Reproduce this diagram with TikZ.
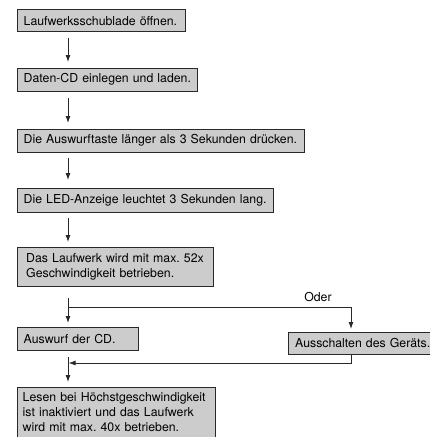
\documentclass[tikz,border=0pt]{standalone}
\usepackage{fontspec}
\setmainfont{TeX Gyre Heros}
\usetikzlibrary{arrows.meta,backgrounds}
\frenchspacing
\begin{document}
\begin{tikzpicture}[x=1pt,y=1pt,
  box/.style={anchor=north west, inner xsep=6pt, inner ysep=0pt, align=left,
    font=\fontsize{12.3}{15}\selectfont},
  boxbg/.style={draw=black!84, fill=black!20, line width=1pt},
  arr/.style={draw=black!84, line width=0.9pt,
    -{Latex[length=7pt,width=5pt]}},
  stem/.style={draw=black!84, line width=0.9pt},
  lbl/.style={font=\fontsize{12.3}{15}\selectfont}]
\useasboundingbox (0,0) rectangle (430,-437);

% process steps
\node[box, text width=155.5pt, minimum height=22pt] (b1) at (17.5,-9.5)
  {\mbox{Laufwerksschublade öffnen.}};
\node[box, text width=167.5pt, minimum height=23pt] (b2) at (17.5,-68)
  {\mbox{Daten-CD einlegen und laden.}};
\node[box, text width=274.5pt, minimum height=23pt] (b3) at (17.5,-129)
  {\mbox{Die Auswurftaste länger als 3 Sekunden drücken.}};
\node[box, text width=243.5pt, minimum height=24pt] (b4) at (17.5,-188)
  {\mbox{Die LED-Anzeige leuchtet 3 Sekunden lang.}};
\node[box, inner xsep=8.5pt, text width=178.5pt, minimum height=39pt] (b5) at (17.5,-247)
  {\mbox{Das Laufwerk wird mit max. 52x}\\\mbox{Geschwindigkeit betrieben.}};
\node[box, text width=108.5pt, minimum height=23pt] (b6) at (17.5,-327)
  {\mbox{Auswurf der CD.}};
\node[box, inner xsep=7pt, text width=132pt, minimum height=22pt] (b7) at (288,-332)
  {\mbox{Ausschalten des Geräts.}};
\node[box, inner xsep=5pt, text width=187.5pt, minimum height=50pt] (b8) at (17.5,-387)
  {\mbox{Lesen bei Höchstgeschwindigkeit}\\\mbox{ist inaktiviert und das Laufwerk}\\\mbox{wird mit max. 40x betrieben.}};

% grey frames behind the step texts
\begin{scope}[on background layer]
  \fill[white] (0,0) rectangle (430,-437);
  \foreach \b in {b1,b2,b3,b4,b5,b6,b7}
    \path[boxbg] (\b.north west) rectangle (\b.south east);
  \path[boxbg] (b8.north west) rectangle ([yshift=-14pt]b8.south east);
\end{scope}

% connector columns
\coordinate (ax) at (68,0);
\coordinate (bx) at (351,0);
\coordinate (split) at (68,-307);
\coordinate (join) at (68,-363);

% straight sequence
\draw[arr, shorten <=6pt, shorten >=6pt] (ax |- b1.south) -- (ax |- b2.north);
\draw[arr, shorten <=7pt, shorten >=6pt] (ax |- b2.south) -- (ax |- b3.north);
\draw[arr, shorten <=6pt, shorten >=8pt] (ax |- b3.south) -- (ax |- b4.north);
\draw[arr, shorten <=6pt, shorten >=5pt] (ax |- b4.south) -- (ax |- b5.north);

% alternative branches
\draw[stem] ([yshift=-12pt]ax |- b5.south) -- (split);
\draw[arr, shorten >=4pt] (split) -- (ax |- b6.north);
\draw[arr, shorten >=3pt] (split) -| (bx |- b7.north);
\node[lbl] (oder) at (318,-297) {Oder};

% branches rejoin
\draw[arr, shorten >=0.5pt] (bx |- b7.south) |- (join);
\draw[arr, shorten <=7pt, shorten >=5pt] (ax |- b6.south) -- (ax |- b8.north);
\end{tikzpicture}
\end{document}
